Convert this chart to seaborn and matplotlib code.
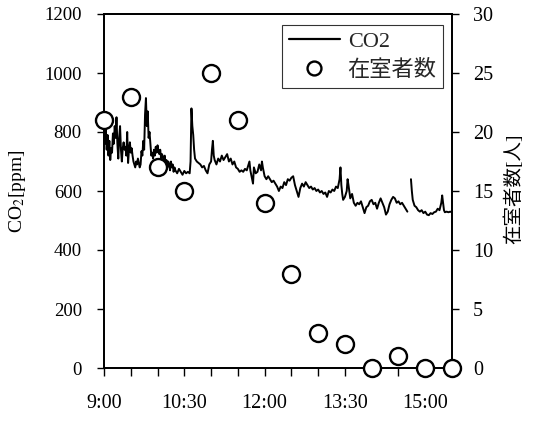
import matplotlib
matplotlib.use('Agg')
import matplotlib.pyplot as plt
import seaborn as sns
import pandas as pd
import numpy as np
from matplotlib.lines import Line2D
from matplotlib.ticker import FixedLocator

# ---- data ----
# CO2 concentration: minutes after 9:00 and ppm (NaN = missing data gap)
co2_minutes = [0, 1, 2, 3, 4, 5, 6, 7, 8, 9, 10, 11, 12, 13, 14, 15, 16, 17, 18, 19,
               20, 21, 22, 23, 24, 25, 26, 27, 28, 29, 30, 31, 32, 33, 34, 35, 36, 37, 38, 39,
               40, 41, 42, 43, 44, 45, 46, 47, 48, 49, 50, 51, 52, 53, 54, 55, 56, 57, 58, 59,
               60, 61, 62, 63, 64, 65, 66, 67, 68, 69, 70, 71, 72, 73, 74, 75, 76, 77, 78, 79,
               80, 82, 84, 86, 88, 90, 92, 94, 96, 97, 98, 99, 100, 101, 102, 104, 106, 108, 110,
               112, 114, 116, 118, 120, 121, 122, 123, 124, 126, 128, 130, 132, 134, 136, 138,
               140, 142, 144, 146, 148, 150, 152, 154, 156, 158, 160, 162, 163, 164, 166, 167,
               168, 170, 172, 174, 176, 177, 178, 180, 182, 184, 186, 188, 190, 192, 194, 196,
               198, 200, 202, 204, 206, 208, 210, 212, 214, 216, 218, 220, 222, 224, 226, 228,
               230, 232, 234, 236, 238, 240, 242, 244, 246, 248, 250, 252, 254, 256, 258, 260,
               262, 264, 265, 266, 267, 268, 270, 272, 273, 274, 276, 278, 280, 282, 284, 286,
               288, 290, 292, 294, 296, 298, 300, 302, 304, 306, 308, 310, 312, 314, 316, 318,
               320, 322, 324, 326, 328, 330, 332, 334, 336, 338, 340, 342,
               344, 345, 346, 348, 350, 352, 354, 356, 358, 360, 362, 364, 366, 368, 370, 372,
               374, 376, 378, 379, 380, 381, 382, 384, 386, 388, 390]
co2_ppm = [815, 760, 810, 740, 790, 720, 770, 705, 745, 730, 795, 760, 820, 780, 850, 760, 710, 780, 820, 740,
           700, 745, 765, 740, 750, 720, 800, 695, 740, 765, 730, 745, 720, 700, 690, 680, 700, 690, 710, 695,
           680, 690, 735, 720, 770, 740, 860, 915, 820, 870, 780, 800, 760, 720, 730, 710, 740, 720, 750, 730,
           755, 735, 725, 740, 710, 725, 715, 700, 720, 690, 705, 680, 700, 690, 670, 700, 680, 690, 665, 680,
           670, 660, 675, 665, 655, 668, 660, 665, 660, 700, 880, 820, 790, 740, 710, 700, 695, 690, 680,
           685, 670, 660, 690, 700, 740, 770, 720, 705, 690, 710, 700, 720, 705, 715, 725,
           700, 710, 690, 700, 680, 675, 665, 670, 665, 675, 670, 690, 700, 670, 640, 625,
           680, 660, 665, 690, 670, 700, 680, 650, 640, 650, 640, 630, 635, 625, 615, 600,
           615, 610, 630, 620, 640, 635, 645, 650, 620, 600, 580, 610, 625, 615, 630, 620,
           610, 615, 605, 610, 600, 605, 595, 600, 590, 595, 580, 600, 595, 605, 600, 615,
           610, 640, 680, 620, 590, 570, 580, 600, 640, 620, 575, 590, 560, 550, 560, 555,
           565, 545, 525, 545, 550, 565, 570, 555, 560, 540, 560, 575, 560, 545, 520, 530,
           555, 570, 580, 575, 560, 565, 555, 560, 550, 540, 530, np.nan,
           640, 600, 570, 550, 545, 535, 530, 535, 525, 530, 520, 518, 525, 522, 528, 530,
           540, 535, 560, 585, 560, 535, 528, 530, 528, 530, 528]

# occupants every 30 minutes
occ_minutes = [0, 30, 60, 90, 120, 150, 180, 210, 240, 270, 300, 330, 360, 390]
occ_counts = [21, 23, 17, 15, 25, 21, 14, 8, 3, 2, 0, 1, 0, 0]

# x tick labels
xtick_minutes = [0, 90, 180, 270, 360]
xtick_labels = ['9:00', '10:30', '12:00', '13:30', '15:00']

# ---- style ----
sns.set_theme(style='ticks')
plt.rcParams['font.family'] = ['Liberation Serif', 'Noto Sans CJK JP']
plt.rcParams['mathtext.fontset'] = 'stix'

df = pd.DataFrame({'t': co2_minutes, 'co2': co2_ppm})
df['seg'] = df['co2'].isna().cumsum()
df = df.dropna()

fig = plt.figure(figsize=(5.34, 4.23), dpi=100)
ax = fig.add_axes([104 / 534, 55 / 423, 348 / 534, 354 / 423])

sns.lineplot(data=df, x='t', y='co2', units='seg', estimator=None, color='black',
             linewidth=1.4, ax=ax, legend=False)

ax2 = ax.twinx()
sns.scatterplot(x=occ_minutes, y=occ_counts, ax=ax2, s=150, marker='o',
                facecolor='white', edgecolor='black', linewidth=1.7,
                clip_on=False, zorder=5, legend=False)

ax.set_xlim(0, 390)
ax.set_ylim(0, 1200)
ax2.set_ylim(0, 30)
ax.set_yticks(range(0, 1201, 200))
ax2.set_yticks(range(0, 31, 5))
ax.xaxis.set_major_locator(FixedLocator(xtick_minutes))
ax.set_xticklabels(xtick_labels)
ax.xaxis.set_minor_locator(FixedLocator(occ_minutes))

for a in (ax, ax2):
    for s in a.spines.values():
        s.set_color('black')
        s.set_linewidth(1.3)

ax.tick_params(axis='y', direction='out', length=5, width=1, labelsize=13.5, pad=11, colors='black')
ax.tick_params(axis='x', which='both', direction='out', length=6, width=1, labelsize=14.5, pad=13, colors='black')
ax2.tick_params(axis='y', direction='out', length=5, width=1, labelsize=14.5, pad=10, colors='black')

ax.set_xlabel('')
ax.set_ylabel('CO$_2$[ppm]', fontsize=14, color='black')
ax.yaxis.set_label_coords(-0.218, 0.5)
ax2.set_ylabel('在室者数[人]', fontsize=14, color='black', rotation=90)
ax2.yaxis.set_label_coords(1.149, 0.505)

handles = [Line2D([0], [0], color='black', lw=1.6),
           Line2D([0], [0], marker='o', ls='none', mfc='white', mec='black', ms=10, mew=1.7)]
leg = ax2.legend(handles, ['CO2', '在室者数'], loc='upper right',
                 bbox_to_anchor=(0.975, 0.969), fontsize=16, frameon=True,
                 fancybox=False, edgecolor='black', handlelength=2.3,
                 borderpad=0.3, labelspacing=0.35, handletextpad=0.35, borderaxespad=0)
leg.get_frame().set_linewidth(0.8)

fig.savefig('out.png', dpi=100, facecolor='white')
